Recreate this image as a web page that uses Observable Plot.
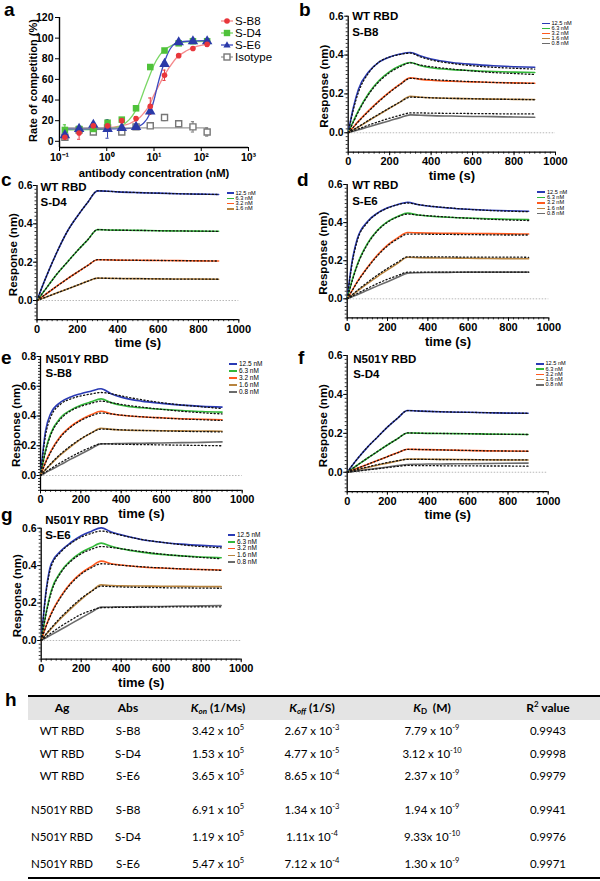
<!DOCTYPE html>
<html><head><meta charset="utf-8">
<script src="https://cdn.jsdelivr.net/npm/d3@7"></script>
<script src="https://cdn.jsdelivr.net/npm/@observablehq/plot@0.6"></script>
<style>
body{margin:0;background:#fff;}
#root{position:relative;width:600px;height:881px;overflow:hidden;font-family:"Liberation Sans",Arial,sans-serif;color:#000;}
.plt{position:absolute;}
.plt svg{background:transparent !important;overflow:visible;}
.letter{position:absolute;font-weight:bold;font-size:19px;line-height:20px;}
.leg{position:absolute;white-space:nowrap;overflow:visible;}
.cell{position:absolute;width:200px;text-align:center;font-family:Lato,"Open Sans",sans-serif;font-size:11.5px;line-height:16px;white-space:nowrap;}
.cell sup{font-size:7.5px;line-height:0;vertical-align:5px;}
.hd{font-weight:bold;font-size:12px;}
.hd sub{font-size:8px;vertical-align:-2px;line-height:0;}
</style></head><body><div id="root"></div>
<script>
// ---------- panel a data ----------
const aConc = [0.13, 0.26, 0.52, 1.04, 2.08, 4.17, 8.33, 16.7, 33.3, 66.7, 133.3];
const aB8 = [4, 8, 15, 15, 20, 22, 34, 64, 83, 90, 94];
const aB8err = [3, 6, 1, 2, 1, 2, 8, 5, 1, 1, 2];
const aD4 = [11, 12, 12, 18, 21, 32, 72, 88, 95, 97, 97];
const aD4err = [5, 1, 1, 2, 1, 1, 1, 1, 1, 1, 1];
const aE6 = [6, 12, 16, 12, 13, 14, 29, 75, 96, 97, 97];
const aE6err = [2, 1, 2, 9, 1, 1, 2, 2, 1, 1, 1];
const aIso = [4, 11, 9, 13, 9, 14, 15, 23, 17, 14, 9];
const aIsoErr = [2, 1, 2, 1, 1, 1, 1, 3, 2, 5, 4];
const aSeries = ["S-B8", "S-D4", "S-E6", "Isotype"];
const aColors = ["#e8363b", "#4fc23a", "#2b3aa8", "#777777"];
const aFitColors = ["#f58a8c", "#7ad765", "#3b4ac0", "#9a9a9a"];
// fitted curves
const fitB8x = [0.13, 0.5, 1, 2, 3, 4, 5, 6, 8, 10, 13, 16, 20, 30, 50, 80, 133];
const fitB8y = [12, 12.5, 13, 15, 17, 20, 23, 27, 35, 45, 55, 63, 70, 81, 88, 92, 94];
const fitD4x = [0.13, 0.5, 1, 2, 3, 4, 5, 6, 8, 10, 13, 16, 20, 30, 50, 133];
const fitD4y = [11, 11.3, 12, 15, 21, 29, 38, 48, 63, 74, 83, 88, 91, 95, 96.5, 97];
const fitE6x = [0.13, 1, 2, 3, 4, 5, 6, 8, 10, 12, 14, 17, 20, 25, 30, 50, 133];
const fitE6y = [12, 12, 12.2, 12.5, 13.5, 15, 17.5, 26, 40, 55, 66, 78, 86, 93, 95.5, 97, 97.5];
const fitIsoX = [0.13, 133];
const fitIsoY = [13, 13];
const aXTicks = [0.1, 1, 10, 100, 1000];
const aXTickLabels = ["10\u207B\u00B9", "10\u2070", "10\u00B9", "10\u00B2", "10\u00B3"];
const aYTicks = [0, 20, 40, 60, 80, 100, 120];

// ---------- BLI sensorgram data (response, nm) ----------
const T = [0, 25, 50, 100, 150, 200, 250, 300, 350, 400, 500, 600, 700, 800, 900];
const concLabels = ["12.5 nM", "6.3 nM", "3.2 nM", "1.6 nM", "0.8 nM"];
const concColors = ["#2a3ab4", "#33b83a", "#ff5a1e", "#b8843f", "#6b6b6b"];
const timeTicks = [0, 200, 400, 600, 800, 1000];

const bObs = [
  [0, 0.13, 0.225, 0.315, 0.365, 0.39, 0.405, 0.413, 0.395, 0.38, 0.362, 0.352, 0.345, 0.340, 0.337],
  [0, 0.06, 0.115, 0.205, 0.27, 0.315, 0.345, 0.362, 0.345, 0.335, 0.325, 0.32, 0.315, 0.312, 0.31],
  [0, 0.03, 0.06, 0.115, 0.165, 0.21, 0.25, 0.283, 0.275, 0.27, 0.265, 0.262, 0.259, 0.257, 0.255],
  [0, 0.015, 0.03, 0.063, 0.095, 0.127, 0.158, 0.188, 0.183, 0.18, 0.177, 0.175, 0.173, 0.172, 0.171],
  [0, 0.008, 0.016, 0.031, 0.047, 0.062, 0.078, 0.092, 0.09, 0.088, 0.086, 0.084, 0.083, 0.081, 0.08]];
const bFit = [
  [0, 0.12, 0.21, 0.31, 0.365, 0.39, 0.403, 0.41, 0.39, 0.375, 0.357, 0.345, 0.337, 0.332, 0.328],
  [0, 0.055, 0.11, 0.2, 0.265, 0.31, 0.34, 0.36, 0.348, 0.34, 0.328, 0.318, 0.31, 0.305, 0.30],
  [0, 0.028, 0.058, 0.112, 0.163, 0.208, 0.248, 0.28, 0.277, 0.274, 0.268, 0.263, 0.259, 0.256, 0.254],
  [0, 0.016, 0.032, 0.065, 0.097, 0.128, 0.158, 0.183, 0.182, 0.18, 0.177, 0.175, 0.173, 0.172, 0.17],
  [0, 0.01, 0.02, 0.04, 0.058, 0.075, 0.09, 0.102, 0.102, 0.101, 0.1, 0.099, 0.098, 0.097, 0.097]];

const cObs = [
  [0, 0.07, 0.135, 0.255, 0.36, 0.44, 0.51, 0.572, 0.57, 0.567, 0.563, 0.56, 0.557, 0.555, 0.553],
  [0, 0.035, 0.07, 0.14, 0.2, 0.26, 0.315, 0.37, 0.368, 0.367, 0.366, 0.364, 0.363, 0.362, 0.361],
  [0, 0.019, 0.038, 0.076, 0.113, 0.148, 0.182, 0.213, 0.212, 0.211, 0.21, 0.209, 0.208, 0.207, 0.206],
  [0, 0.01, 0.02, 0.04, 0.06, 0.08, 0.1, 0.117, 0.116, 0.115, 0.114, 0.113, 0.112, 0.112, 0.111]];
const cFit = cObs;

const dObs = [
  [0, 0.2, 0.315, 0.405, 0.45, 0.478, 0.495, 0.507, 0.495, 0.487, 0.477, 0.47, 0.465, 0.462, 0.46],
  [0, 0.1, 0.18, 0.29, 0.36, 0.405, 0.432, 0.45, 0.44, 0.435, 0.428, 0.424, 0.42, 0.418, 0.416],
  [0, 0.045, 0.09, 0.165, 0.23, 0.282, 0.32, 0.348, 0.346, 0.345, 0.344, 0.343, 0.342, 0.341, 0.34],
  [0, 0.02, 0.04, 0.08, 0.117, 0.152, 0.186, 0.218, 0.216, 0.215, 0.214, 0.213, 0.212, 0.211, 0.21],
  [0, 0.011, 0.022, 0.045, 0.068, 0.09, 0.113, 0.135, 0.137, 0.138, 0.139, 0.14, 0.14, 0.14, 0.14]];
const dFit = [
  [0, 0.19, 0.305, 0.4, 0.448, 0.476, 0.494, 0.503, 0.495, 0.488, 0.478, 0.47, 0.464, 0.46, 0.457],
  [0, 0.095, 0.175, 0.285, 0.357, 0.402, 0.43, 0.445, 0.44, 0.436, 0.429, 0.423, 0.418, 0.414, 0.411],
  [0, 0.044, 0.087, 0.162, 0.226, 0.278, 0.314, 0.34, 0.34, 0.339, 0.338, 0.337, 0.336, 0.335, 0.335],
  [0, 0.022, 0.044, 0.086, 0.125, 0.16, 0.192, 0.22, 0.22, 0.22, 0.22, 0.219, 0.219, 0.219, 0.218],
  [0, 0.014, 0.028, 0.055, 0.08, 0.103, 0.122, 0.14, 0.14, 0.14, 0.14, 0.14, 0.14, 0.14, 0.14]];

const eObs = [
  [0, 0.3, 0.415, 0.493, 0.528, 0.55, 0.567, 0.583, 0.55, 0.527, 0.5, 0.485, 0.473, 0.465, 0.46],
  [0, 0.17, 0.28, 0.39, 0.44, 0.472, 0.495, 0.515, 0.49, 0.472, 0.455, 0.445, 0.437, 0.43, 0.426],
  [0, 0.09, 0.16, 0.265, 0.33, 0.375, 0.408, 0.432, 0.415, 0.405, 0.395, 0.388, 0.382, 0.378, 0.375],
  [0, 0.04, 0.075, 0.14, 0.195, 0.245, 0.285, 0.318, 0.31, 0.306, 0.303, 0.301, 0.3, 0.299, 0.298],
  [0, 0.019, 0.037, 0.073, 0.11, 0.145, 0.18, 0.213, 0.214, 0.215, 0.217, 0.219, 0.221, 0.223, 0.226]];
const eFit = [
  [0, 0.27, 0.39, 0.48, 0.515, 0.535, 0.548, 0.558, 0.55, 0.535, 0.51, 0.49, 0.474, 0.462, 0.45],
  [0, 0.16, 0.27, 0.38, 0.435, 0.465, 0.485, 0.5, 0.49, 0.478, 0.46, 0.445, 0.432, 0.422, 0.414],
  [0, 0.085, 0.155, 0.26, 0.325, 0.37, 0.4, 0.42, 0.414, 0.406, 0.395, 0.387, 0.38, 0.375, 0.37],
  [0, 0.04, 0.078, 0.145, 0.2, 0.247, 0.285, 0.312, 0.31, 0.307, 0.303, 0.3, 0.297, 0.295, 0.293],
  [0, 0.023, 0.045, 0.087, 0.125, 0.16, 0.19, 0.213, 0.212, 0.21, 0.208, 0.206, 0.204, 0.202, 0.2]];

const fObs = [
  [0, 0.035, 0.068, 0.128, 0.18, 0.232, 0.277, 0.317, 0.315, 0.313, 0.31, 0.308, 0.306, 0.304, 0.303],
  [0, 0.018, 0.036, 0.072, 0.106, 0.14, 0.172, 0.202, 0.201, 0.2, 0.199, 0.198, 0.196, 0.195, 0.194],
  [0, 0.01, 0.02, 0.04, 0.06, 0.08, 0.1, 0.118, 0.117, 0.116, 0.114, 0.112, 0.11, 0.109, 0.108],
  [0, 0.006, 0.012, 0.024, 0.036, 0.047, 0.058, 0.068, 0.068, 0.067, 0.066, 0.065, 0.064, 0.063, 0.063],
  [0, 0.003, 0.007, 0.014, 0.02, 0.027, 0.034, 0.04, 0.041, 0.042, 0.043, 0.044, 0.045, 0.046, 0.047]];
const fFit = [
  fObs[0], fObs[1], fObs[2],
  [0, 0.007, 0.014, 0.027, 0.039, 0.05, 0.059, 0.066, 0.066, 0.066, 0.065, 0.065, 0.064, 0.064, 0.064],
  [0, 0.003, 0.006, 0.012, 0.018, 0.024, 0.03, 0.035, 0.034, 0.034, 0.033, 0.033, 0.032, 0.032, 0.031]];

const gObs = [
  [0, 0.27, 0.41, 0.48, 0.525, 0.56, 0.583, 0.602, 0.58, 0.565, 0.54, 0.525, 0.515, 0.508, 0.503],
  [0, 0.15, 0.265, 0.37, 0.43, 0.47, 0.497, 0.52, 0.503, 0.49, 0.472, 0.46, 0.452, 0.446, 0.442],
  [0, 0.08, 0.145, 0.24, 0.31, 0.36, 0.395, 0.424, 0.41, 0.403, 0.393, 0.387, 0.382, 0.379, 0.377],
  [0, 0.033, 0.063, 0.12, 0.172, 0.22, 0.262, 0.297, 0.294, 0.292, 0.291, 0.29, 0.289, 0.288, 0.288],
  [0, 0.015, 0.03, 0.06, 0.09, 0.12, 0.15, 0.178, 0.179, 0.18, 0.181, 0.182, 0.184, 0.185, 0.187]];
const gFit = [
  [0, 0.26, 0.395, 0.475, 0.52, 0.552, 0.572, 0.585, 0.575, 0.562, 0.54, 0.525, 0.512, 0.502, 0.495],
  [0, 0.145, 0.255, 0.365, 0.425, 0.463, 0.487, 0.502, 0.497, 0.49, 0.475, 0.462, 0.452, 0.444, 0.437],
  [0, 0.078, 0.14, 0.235, 0.305, 0.355, 0.388, 0.41, 0.407, 0.402, 0.394, 0.388, 0.383, 0.379, 0.375],
  [0, 0.035, 0.067, 0.126, 0.178, 0.225, 0.262, 0.29, 0.288, 0.286, 0.284, 0.282, 0.281, 0.28, 0.279],
  [0, 0.02, 0.04, 0.077, 0.11, 0.14, 0.16, 0.175, 0.176, 0.177, 0.178, 0.179, 0.18, 0.18, 0.18]];

// ---------- table h ----------
const tHead = ["Ag", "Abs", "<i>K<sub>on</sub></i> (1/Ms)", "<i>K<sub>off</sub></i> (1/S)", "<i>K</i><sub>D</sub>&nbsp; (M)", "R<sup style='font-size:8px;vertical-align:5px;line-height:0'>2</sup> value"];
const tAg = ["WT RBD", "WT RBD", "WT RBD", "N501Y RBD", "N501Y RBD", "N501Y RBD"];
const tAbs = ["S-B8", "S-D4", "S-E6", "S-B8", "S-D4", "S-E6"];
const tKonM = ["3.42 x 10", "1.53 x 10", "3.65 x 10", "6.91 x 10", "1.19 x 10", "5.47 x 10"];
const tKonE = ["5", "5", "5", "5", "5", "5"];
const tKoffM = ["2.67 x 10", "4.77 x 10", "8.65 x 10", "1.34 x 10", "1.11x 10", "7.12 x 10"];
const tKoffE = ["-3", "-5", "-4", "-3", "-4", "-4"];
const tKdM = ["7.79 x 10", "3.12 x 10", "2.37 x 10", "1.94 x 10", "9.33x 10", "1.30 x 10"];
const tKdE = ["-9", "-10", "-9", "-9", "-10", "-9"];
const tR2 = ["0.9943", "0.9998", "0.9979", "0.9941", "0.9976", "0.9971"];

// ---------- build ----------
const root = document.getElementById("root");
const FONT = "'Liberation Sans', Arial, sans-serif";

function place(svg, left, top) {
  const d = document.createElement("div");
  d.className = "plt"; d.style.left = left + "px"; d.style.top = top + "px";
  d.appendChild(svg); root.appendChild(d);
}
function letter(ch, x, y) {
  const d = document.createElement("div");
  d.className = "letter"; d.textContent = ch;
  d.style.left = x + "px"; d.style.top = y + "px";
  root.appendChild(d);
}

// Panel a
(function () {
  const rows = [];
  const vals = [aB8, aD4, aE6, aIso], errs = [aB8err, aD4err, aE6err, aIsoErr];
  vals.forEach((arr, s) => arr.forEach((v, i) => rows.push({x: aConc[i], y: v, e: errs[s][i], s: aSeries[s]})));
  const fits = [];
  [[fitB8x, fitB8y], [fitD4x, fitD4y], [fitE6x, fitE6y], [fitIsoX, fitIsoY]].forEach(([xs, ys], s) =>
    xs.forEach((x, i) => fits.push({x, y: ys[i], s: aSeries[s]})));
  const by = s => rows.filter(r => r.s === s);
  const col = s => aColors[aSeries.indexOf(s)];
  const errMarks = s => [
    Plot.ruleX(by(s), {x: "x", y1: d => d.y - d.e, y2: d => d.y + d.e, stroke: col(s), strokeWidth: 1}),
    Plot.ruleY(by(s), {y: d => d.y + d.e, x1: d => d.x / 1.08, x2: d => d.x * 1.08, stroke: col(s), strokeWidth: 1}),
    Plot.ruleY(by(s), {y: d => d.y - d.e, x1: d => d.x / 1.08, x2: d => d.x * 1.08, stroke: col(s), strokeWidth: 1})
  ];
  const svg = Plot.plot({
    width: 300, height: 182,
    marginLeft: 59, marginRight: 52, marginTop: 17, marginBottom: 35,
    style: {background: "transparent", overflow: "visible", fontFamily: FONT, color: "#000"},
    x: {type: "log", domain: [0.1, 1000]},
    y: {domain: [-6, 120]},
    marks: [
      Plot.ruleX([0.1], {strokeWidth: 1.4}),
      Plot.ruleY([-6], {strokeWidth: 1.4}),
      Plot.axisX({ticks: aXTicks, tickFormat: d => aXTickLabels[aXTicks.indexOf(d)], tickSize: 4, tickPadding: 2, fontSize: 10.5, fontWeight: "bold", label: null}),
      Plot.axisY({ticks: aYTicks, tickSize: 4, tickPadding: 2, fontSize: 10.5, fontWeight: "bold", label: null}),
      Plot.line(fits, {x: "x", y: "y", z: "s", stroke: d => aFitColors[aSeries.indexOf(d.s)], strokeWidth: 1.3, curve: "monotone-x"}),
      ...errMarks("Isotype"), ...errMarks("S-D4"), ...errMarks("S-E6"), ...errMarks("S-B8"),
      Plot.dot(by("Isotype"), {x: "x", y: "y", symbol: "square", r: 3.4, fill: "white", stroke: aColors[3], strokeWidth: 1.4}),
      Plot.dot(by("S-D4"), {x: "x", y: "y", symbol: "square", r: 3.7, fill: aColors[1]}),
      Plot.dot(by("S-E6"), {x: "x", y: "y", symbol: "triangle", r: 3.9, fill: aColors[2]}),
      Plot.dot(by("S-B8"), {x: "x", y: "y", symbol: "circle", r: 2.8, fill: aColors[0]}),
      Plot.text(["antibody concentration (nM)"], {text: d => d, frameAnchor: "bottom", textAnchor: "middle", lineAnchor: "middle", dy: 26, fontSize: 11.2, fontWeight: "bold"}),
      Plot.text(["Rate of competition (%)"], {text: d => d, frameAnchor: "left", textAnchor: "middle", lineAnchor: "middle", rotate: -90, dx: -26, dy: -2, fontSize: 11, fontWeight: "bold"})
    ]
  });
  place(svg, 0, 0);
  // legend
  const shapes = [
    `<line x1="0" y1="5" x2="12" y2="5" stroke="${aFitColors[0]}" stroke-width="1.3"/><circle cx="6" cy="5" r="2.8" fill="${aColors[0]}"/>`,
    `<line x1="0" y1="5" x2="12" y2="5" stroke="${aFitColors[1]}" stroke-width="1.3"/><rect x="2.8" y="1.8" width="6.4" height="6.4" fill="${aColors[1]}"/>`,
    `<line x1="0" y1="5" x2="12" y2="5" stroke="${aFitColors[2]}" stroke-width="1.3"/><path d="M6,1.2 L9.6,7.6 L2.4,7.6 Z" fill="${aColors[2]}"/>`,
    `<line x1="0" y1="5" x2="12" y2="5" stroke="${aFitColors[3]}" stroke-width="1.3"/><rect x="3" y="2" width="6" height="6" fill="white" stroke="${aColors[3]}" stroke-width="1.4"/>`
  ];
  const ys = [21, 33, 45, 57];
  aSeries.forEach((s, i) => {
    const d = document.createElement("div");
    d.style.cssText = `position:absolute;left:221px;top:${ys[i] - 5}px;height:10px;font-size:11.5px;line-height:10px;white-space:nowrap;`;
    d.innerHTML = `<svg width="12" height="10" style="vertical-align:-1px;margin-right:2px">${shapes[i]}</svg>${s}`;
    root.appendChild(d);
  });
})();

// Panels b-g
function bli(cfg) {
  const obs = [], fit = [];
  cfg.obs.forEach((arr, i) => arr.forEach((v, j) => obs.push({t: T[j], v, c: concLabels[i]})));
  cfg.fit.forEach((arr, i) => arr.forEach((v, j) => fit.push({t: T[j], v, c: concLabels[i]})));
  const yTicks = cfg.ymax > 0.7 ? [0, 0.2, 0.4, 0.6, 0.8] : [0, 0.2, 0.4, 0.6];
  const svg = Plot.plot({
    width: 300, height: cfg.h,
    marginLeft: cfg.ml, marginRight: cfg.mr, marginTop: cfg.mt, marginBottom: cfg.mb,
    style: {background: "transparent", overflow: "visible", fontFamily: FONT, color: "#000"},
    x: {domain: [0, 1000]},
    y: {domain: [-0.1, cfg.ymax]},
    color: {domain: concLabels, range: concColors},
    marks: [
      Plot.ruleY([0], {stroke: "#b8b8b8", strokeDasharray: "1.5,1.5", strokeWidth: 1}),
      Plot.axisX({ticks: d3.range(0, 1001, 25), tickSize: 2, text: null, label: null, strokeWidth: 0.8}),
      Plot.axisY({ticks: d3.range(-0.1, cfg.ymax + 0.001, 0.02), tickSize: 2, text: null, label: null, strokeWidth: 0.8}),
      Plot.ruleX([0], {strokeWidth: 1.3}),
      Plot.ruleY([-0.1], {strokeWidth: 1.3}),
      Plot.axisX({ticks: timeTicks, tickFormat: d => String(d), tickSize: 3.5, tickPadding: 1.5, fontSize: 11, fontWeight: "bold", label: null}),
      Plot.axisY({ticks: yTicks, tickFormat: d3.format(".1f"), tickSize: 3.5, tickPadding: 1, fontSize: 10.5, fontWeight: "bold", label: null}),
      Plot.line(obs, {x: "t", y: "v", z: "c", stroke: "c", strokeWidth: 1.6, curve: "monotone-x"}),
      Plot.line(fit, {x: "t", y: "v", z: "c", stroke: "#111", strokeWidth: 1.3, strokeDasharray: "1.2,2.4", curve: "monotone-x"}),
      Plot.text([cfg.t1], {text: d => d, frameAnchor: "top-left", textAnchor: "start", lineAnchor: "middle", dx: cfg.tdx, dy: cfg.tdy1, fontSize: 11.5, fontWeight: "bold"}),
      Plot.text([cfg.t2], {text: d => d, frameAnchor: "top-left", textAnchor: "start", lineAnchor: "middle", dx: cfg.tdx, dy: cfg.tdy2, fontSize: 11.5, fontWeight: "bold"}),
      Plot.text(["time (s)"], {text: d => d, frameAnchor: "bottom", textAnchor: "middle", lineAnchor: "middle", dy: 23.5, fontSize: 13, fontWeight: "bold"}),
      Plot.text(["Response (nm)"], {text: d => d, frameAnchor: "left", textAnchor: "middle", lineAnchor: "middle", rotate: -90, dx: -24, dy: 2, fontSize: 11.5, fontWeight: "bold"})
    ]
  });
  place(svg, cfg.left, cfg.top);
  // legend
  const lh = Math.min(cfg.ldy, 6.5);
  const fs = cfg.ldy < 6 ? 5.6 : 6.5;
  cfg.obs.forEach((arr, i) => {
    const d = document.createElement("div");
    d.className = "leg";
    d.style.left = cfg.lx + "px";
    d.style.top = (cfg.ly + i * cfg.ldy - lh / 2) + "px";
    d.style.height = lh + "px";
    d.style.lineHeight = lh + "px";
    d.style.fontSize = fs + "px";
    d.innerHTML = `<span style="display:inline-block;width:${cfg.lw}px;height:1.5px;background:${concColors[i]};vertical-align:middle;margin-right:2px"></span>${concLabels[i]}`;
    root.appendChild(d);
  });
}

bli({left: 300, top: 0, h: 185, ml: 47.7, mr: 45, mt: 15.7, mb: 33.3, ymax: 0.6, obs: bObs, fit: bFit,
  t1: "WT RBD", t2: "S-B8", tdx: 4, tdy1: 0.5, tdy2: 16.5, lx: 541.5, ly: 23.3, ldy: 5, lw: 8});
bli({left: 0, top: 160, h: 192, ml: 36.5, mr: 61.7, mt: 25, mb: 32.8, ymax: 0.6, obs: cObs, fit: cFit,
  t1: "WT RBD", t2: "S-D4", tdx: 3.5, tdy1: 2, tdy2: 17, lx: 227, ly: 193.3, ldy: 5.2, lw: 6.5});
bli({left: 300, top: 160, h: 192, ml: 46.7, mr: 51.7, mt: 24, mb: 34.6, ymax: 0.6, obs: dObs, fit: dFit,
  t1: "WT RBD", t2: "S-E6", tdx: 5, tdy1: 1, tdy2: 16.7, lx: 537, ly: 192.3, ldy: 5.4, lw: 8});
bli({left: 0, top: 330, h: 192, ml: 40, mr: 58.3, mt: 26, mb: 32.1, ymax: 0.8, obs: eObs, fit: eFit,
  t1: "N501Y RBD", t2: "S-B8", tdx: 5, tdy1: 3.3, tdy2: 17.3, lx: 229, ly: 364, ldy: 7, lw: 8});
bli({left: 300, top: 330, h: 192, ml: 46.7, mr: 52.3, mt: 25, mb: 30.8, ymax: 0.6, obs: fObs, fit: fFit,
  t1: "N501Y RBD", t2: "S-D4", tdx: 6, tdy1: 4.3, tdy2: 19.3, lx: 536, ly: 364, ldy: 5.25, lw: 7.5});
bli({left: 0, top: 500, h: 192, ml: 40.7, mr: 59.3, mt: 27.7, mb: 33.3, ymax: 0.6, obs: gObs, fit: gFit,
  t1: "N501Y RBD", t2: "S-E6", tdx: 4, tdy1: -7.7, tdy2: 7.3, lx: 228, ly: 535, ldy: 6.8, lw: 7});

// panel letters
letter("a", 4, 0); letter("b", 299, 0); letter("c", 1, 170); letter("d", 297, 170);
letter("e", 1, 348); letter("f", 298, 348); letter("g", 1, 505); letter("h", 5, 690);

// table h
(function () {
  const cx = [62, 128, 218, 312, 432, 548];
  const rowY = [731, 754, 776, 810, 837, 864];
  const line = (y, h) => {
    const d = document.createElement("div");
    d.style.cssText = `position:absolute;left:28px;width:572px;top:${y}px;height:${h}px;background:#000;`;
    root.appendChild(d);
  };
  const bg = document.createElement("div");
  bg.style.cssText = "position:absolute;left:28px;width:572px;top:696px;height:24px;background:#e4e4e4;";
  root.appendChild(bg);
  line(695, 1.5);
  line(877, 2);
  const cell = (html, x, y, cls) => {
    const d = document.createElement("div");
    d.className = "cell" + (cls ? " " + cls : "");
    d.style.left = (x - 100) + "px"; d.style.top = (y - 8) + "px";
    d.innerHTML = html; root.appendChild(d);
  };
  tHead.forEach((h, i) => cell(h, cx[i], 708, "hd"));
  rowY.forEach((y, r) => {
    cell(tAg[r], cx[0], y);
    cell(tAbs[r], cx[1], y);
    cell(tKonM[r] + "<sup>" + tKonE[r] + "</sup>", cx[2], y);
    cell(tKoffM[r] + "<sup>" + tKoffE[r] + "</sup>", cx[3], y);
    cell(tKdM[r] + "<sup>" + tKdE[r] + "</sup>", cx[4], y);
    cell(tR2[r], cx[5], y);
  });
})();
</script></body></html>
